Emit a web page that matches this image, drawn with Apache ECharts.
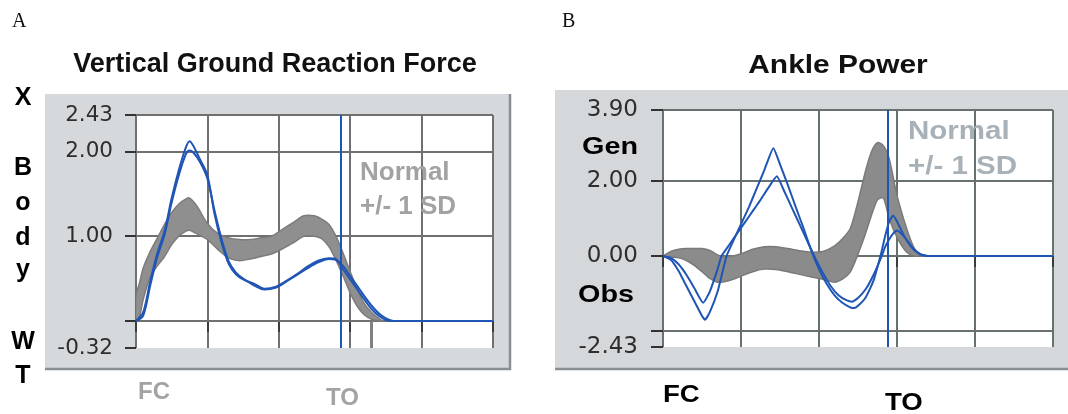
<!DOCTYPE html>
<html><head><meta charset="utf-8">
<script src="https://cdn.jsdelivr.net/npm/echarts@6/dist/echarts.min.js"></script>
<style>html,body{margin:0;padding:0;background:#fff}#c{width:1068px;height:414px}</style>
</head><body><div id="c"></div>
<script>
// ---------- Panel A : Vertical Ground Reaction Force (x = % gait cycle) ----------
const grfX      = [0,2,4,6,8,10,12,14,15,16,18,20,22,24,26,28,30,33,36,39,42,45,48,51,54,56,58,60,62,64,66,68,70,72,100];
const grfLine1  = [0,0.1,0.47,0.8,1.06,1.45,1.78,2.05,2.12,2.07,1.9,1.72,1.26,0.92,0.67,0.55,0.49,0.44,0.38,0.4,0.47,0.55,0.64,0.71,0.74,0.73,0.61,0.49,0.37,0.25,0.14,0.06,0.01,0,0];
const grfLine2  = [0,0.06,0.42,0.76,1.02,1.4,1.72,1.97,2.01,1.99,1.87,1.68,1.3,0.96,0.7,0.57,0.5,0.42,0.37,0.39,0.46,0.54,0.62,0.69,0.73,0.72,0.65,0.53,0.41,0.29,0.18,0.09,0.03,0,0];
const grfBandX  = [0,1,2,4,6,8,10,12,14,15,17,20,23,26,29,32,35,38,41,44,47,50,52,54,56,58,60,62,64,66,68,69];
const grfBandLo = [0,0.05,0.25,0.52,0.65,0.76,0.9,1.0,1.06,1.07,1.03,0.96,0.84,0.74,0.71,0.73,0.76,0.79,0.85,0.92,1.0,1.0,0.97,0.88,0.72,0.53,0.33,0.17,0.07,0.02,0,0];
const grfBandHi = [0.3,0.45,0.62,0.82,0.98,1.14,1.28,1.38,1.44,1.45,1.36,1.15,1.03,0.98,0.96,0.96,0.98,1.0,1.08,1.16,1.24,1.24,1.2,1.14,1.0,0.8,0.58,0.37,0.2,0.1,0.03,0];
const grfTicks  = [-0.32,0,1,2,2.43];
const grfLabels = [-0.32,1,2,2.43];
const grfGrid   = [0,1,2,2.43];
const grfToeOff = 57.4;
const grfNormToeOff = 66;

// ---------- Panel B : Ankle Power ----------
const apX1     = [0,2,4,6,8,10,10.8,12,14,16.3,18,20,22,24,26,28.3,30,32,34,36,38,40,42,44,46,48,49,50,52,54,56,57,58,59,60,62,64,66,68,100];
const apLine1  = [0,-0.1,-0.4,-0.8,-1.2,-1.6,-1.7,-1.5,-0.95,0,0.4,0.85,1.3,1.8,2.3,2.88,2.45,1.9,1.32,0.75,0.15,-0.35,-0.75,-1.05,-1.25,-1.37,-1.39,-1.33,-1.1,-0.65,0.1,0.55,0.92,1.08,0.92,0.5,0.2,0.04,0,0];
const apX2     = [0,2,4,6,8,10.3,12,14,15,17,19,21,23,25,27,29.2,31,33,35,37,39,41,43,45,47,48.5,50,52,54,56,57,58,59,60,62,64,66,68,100];
const apLine2  = [0,-0.05,-0.22,-0.5,-0.85,-1.25,-0.95,-0.35,0,0.3,0.6,0.9,1.2,1.5,1.82,2.13,1.75,1.3,0.85,0.4,-0.05,-0.45,-0.8,-1.05,-1.18,-1.22,-1.12,-0.88,-0.5,-0.02,0.25,0.45,0.6,0.68,0.5,0.22,0.05,0,0];
const apBandX  = [0,2,4,6,8,10,12,14,16,18,20,23,26,29,32,35,38,41,44,46,48,50,52,53.5,55,56.5,58,60,62.5,64.5,66,67];
const apBandLo = [0,-0.03,-0.05,-0.12,-0.25,-0.42,-0.6,-0.7,-0.68,-0.62,-0.54,-0.42,-0.35,-0.36,-0.42,-0.49,-0.56,-0.62,-0.7,-0.62,-0.43,0.05,0.62,1.1,1.5,1.55,1.0,0.5,0.1,0,0,0];
const apBandHi = [0,0.12,0.18,0.2,0.2,0.2,0.15,0.03,-0.03,0,0.06,0.18,0.25,0.25,0.2,0.14,0.1,0.12,0.27,0.46,0.73,1.45,2.3,2.8,3.03,2.95,2.6,1.62,0.73,0.19,0.03,0];
const apTicks  = [-2.43,-2,0,2,3.9];
const apLabels = [-2.43,0,2,3.9];
const apGrid   = [-2,0,2,3.9];
const apToeOff = 57.7;

const BLUE = '#1f55b5';
const pairs = (xs, ys) => xs.map((x, i) => [x, ys[i]]);

function bandSeries(idx, xs, lo, hi, fill, stroke) {
  return {
    type: 'custom', xAxisIndex: idx, yAxisIndex: idx, z: 2, silent: true, clip: true,
    data: [[xs[0], lo[0]]],
    renderItem: function (params, api) {
      const pts = [];
      for (let i = 0; i < xs.length; i++) pts.push(api.coord([xs[i], hi[i]]));
      for (let i = xs.length - 1; i >= 0; i--) pts.push(api.coord([xs[i], lo[i]]));
      return { type: 'polygon', shape: { points: pts, smooth: 0.25 }, style: { fill: fill, stroke: stroke, lineWidth: 1.5 } };
    }
  };
}
function gridSeries(idx, vals, color) {
  return {
    type: 'line', xAxisIndex: idx, yAxisIndex: idx, data: [[0, 0]], symbol: 'none', z: 1, silent: true,
    lineStyle: { width: 0 },
    markLine: { silent: true, symbol: 'none', z: 1, animation: false, label: { show: false },
      lineStyle: { color: color, width: 2, type: 'solid' },
      data: vals.map(v => ({ yAxis: v })) }
  };
}
function lineSeries(idx, xs, ys, smooth, mark) {
  const s = {
    type: 'line', xAxisIndex: idx, yAxisIndex: idx, data: pairs(xs, ys), smooth: smooth,
    symbol: 'none', z: 3, silent: true, lineStyle: { color: BLUE, width: 2 }
  };
  if (mark) s.markLine = mark;
  return s;
}
function xAxisCfg(idx, gridColor) {
  return { gridIndex: idx, type: 'value', min: 0, max: 100, interval: 20, offset: 3,
    axisLine: { show: false },
    axisTick: { show: true, length: 11, lineStyle: { color: '#3c3c3c', width: 2 } },
    axisLabel: { show: false },
    splitLine: { show: true, lineStyle: { color: gridColor, width: 2 } } };
}
function yAxisCfg(idx, min, max, ticks, labels, off, len, margin, size) {
  return { gridIndex: idx, type: 'value', min: min, max: max, offset: off,
    axisLine: { show: false },
    axisTick: { show: true, length: len, customValues: ticks, lineStyle: { color: '#333', width: 2 } },
    axisLabel: { show: true, customValues: labels, margin: margin, formatter: v => Number(v).toFixed(2),
      color: '#2e2e2e', fontFamily: 'DejaVu Sans', fontSize: size },
    splitLine: { show: false } };
}
function txt(x, y, text, font, fill, align, sx) {
  return { type: 'text', x: x, y: y, scaleX: sx || 1, silent: true, z: 10,
    style: { text: text, font: font, fill: fill, align: align || 'left', verticalAlign: 'middle',
      textAlign: align || 'left', textVerticalAlign: 'middle' } };
}

const chart = echarts.init(document.getElementById('c'));
chart.setOption({
  animation: false,
  backgroundColor: '#ffffff',
  grid: [
    { left: 136, top: 115, width: 357, height: 233, show: true, backgroundColor: '#ffffff', borderWidth: 0 },
    { left: 663, top: 110, width: 390, height: 237, show: true, backgroundColor: '#ffffff', borderWidth: 0 }
  ],
  xAxis: [ xAxisCfg(0, '#707070'), xAxisCfg(1, '#667170') ],
  yAxis: [
    yAxisCfg(0, -0.32, 2.43, grfTicks, grfLabels, 4, 11, 19, 21.5),
    yAxisCfg(1, -2.43, 3.9, apTicks, apLabels, 5, 12, 20, 23)
  ],
  series: [
    gridSeries(0, grfGrid, '#707070'),
    bandSeries(0, grfBandX, grfBandLo, grfBandHi, '#8f8f8f', '#7c7c7c'),
    lineSeries(0, grfX, grfLine2, 0.3),
    lineSeries(0, grfX, grfLine1, 0.3, {
      silent: true, symbol: 'none', z: 4, animation: false, label: { show: false },
      lineStyle: { color: BLUE, width: 2, type: 'solid' },
      data: [
        { xAxis: grfToeOff },
        [ { coord: [grfNormToeOff, 0], lineStyle: { color: '#808080', width: 3, type: 'solid' } },
          { coord: [grfNormToeOff, -0.32] } ]
      ]
    }),
    gridSeries(1, apGrid, '#667170'),
    bandSeries(1, apBandX, apBandLo, apBandHi, '#8b8b8b', '#7a7a7a'),
    lineSeries(1, apX2, apLine2, 0.15),
    lineSeries(1, apX1, apLine1, 0.15, {
      silent: true, symbol: 'none', z: 4, animation: false, label: { show: false },
      lineStyle: { color: BLUE, width: 2, type: 'solid' },
      data: [ { xAxis: apToeOff } ]
    })
  ],
  graphic: [
    { type: 'rect', silent: true, z: -10, shape: { x: 45, y: 94, width: 465, height: 275 }, style: { fill: '#d6d9dc' } },
    { type: 'line', silent: true, z: -9, shape: { x1: 45, y1: 369, x2: 511, y2: 369 }, style: { stroke: '#8a8e92', lineWidth: 2.5 } },
    { type: 'line', silent: true, z: -9, shape: { x1: 510, y1: 94, x2: 510, y2: 370 }, style: { stroke: '#8a8e92', lineWidth: 2.5 } },
    { type: 'rect', silent: true, z: -10, shape: { x: 555, y: 90, width: 513, height: 279 }, style: { fill: '#d4d8db' } },
    { type: 'line', silent: true, z: -9, shape: { x1: 555, y1: 369, x2: 1068, y2: 369 }, style: { stroke: '#8a8e92', lineWidth: 2.5 } },

    txt(12, 22, 'A', '20px "Liberation Serif"', '#111'),
    txt(562, 22, 'B', '20px "Liberation Serif"', '#111'),
    txt(275, 65, 'Vertical Ground Reaction Force', 'bold 27px "Liberation Sans"', '#111', 'center'),
    txt(838, 66, 'Ankle Power', 'bold 26px "Liberation Sans"', '#111', 'center', 1.15),

    txt(23, 98, 'X', 'bold 25px "Liberation Sans"', '#000', 'center'),
    txt(23, 168, 'B', 'bold 25px "Liberation Sans"', '#000', 'center'),
    txt(23, 203, 'o', 'bold 25px "Liberation Sans"', '#000', 'center'),
    txt(23, 238, 'd', 'bold 25px "Liberation Sans"', '#000', 'center'),
    txt(23, 270, 'y', 'bold 25px "Liberation Sans"', '#000', 'center'),
    txt(23, 342, 'W', 'bold 25px "Liberation Sans"', '#000', 'center'),
    txt(23, 376, 'T', 'bold 25px "Liberation Sans"', '#000', 'center'),

    txt(360, 173, 'Normal', 'bold 26px "Liberation Sans"', '#a2a2a2'),
    txt(360, 207, '+/- 1 SD', 'bold 26px "Liberation Sans"', '#a2a2a2'),
    txt(138, 392, 'FC', 'bold 24px "Liberation Sans"', '#a3a3a3'),
    txt(326, 398, 'TO', 'bold 24px "Liberation Sans"', '#a3a3a3'),

    txt(908, 132, 'Normal', 'bold 25px "Liberation Sans"', '#a8b1b7', 'left', 1.18),
    txt(908, 167, '+/- 1 SD', 'bold 25px "Liberation Sans"', '#a8b1b7', 'left', 1.18),
    txt(582, 147, 'Gen', 'bold 24px "Liberation Sans"', '#000', 'left', 1.2),
    txt(578, 295, 'Obs', 'bold 24px "Liberation Sans"', '#000', 'left', 1.2),
    txt(663, 395, 'FC', 'bold 24px "Liberation Sans"', '#000', 'left', 1.15),
    txt(885, 403, 'TO', 'bold 24px "Liberation Sans"', '#000', 'left', 1.15)
  ]
});
</script></body></html>
